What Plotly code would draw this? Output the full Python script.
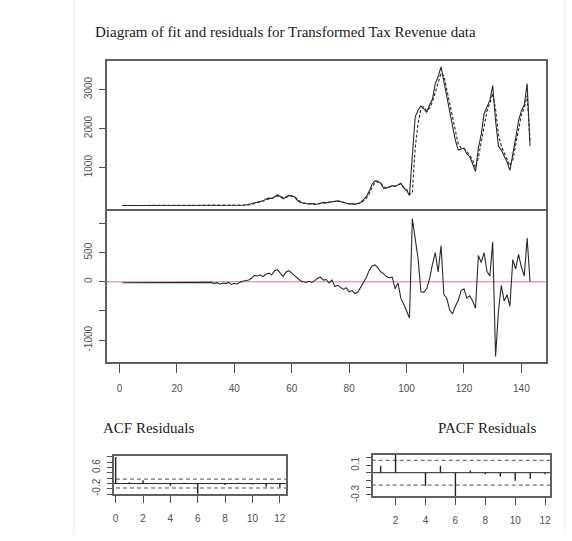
import plotly.graph_objects as go

W, H = 572, 541

t = list(range(1, 144))

actual = [30,30,30,30,30,30,30,30,30,30,
          30,30,30,30,30,30,30,30,30,30,
          30,30,30,30,30,30,30,30,30,30,
          30,28,32,30,25,35,30,28,33,30,
          35,40,38,45,
          60,80,90,110,130,150,200,220,210,260,
          300,260,200,250,290,280,250,160,110,90,
          80,70,80,60,70,90,110,100,120,130,
          140,150,130,110,90,70,80,60,80,110,
          180,260,400,580,660,650,600,470,480,520,
          540,520,560,600,480,420,290,
          1370,2300,2470,2580,2500,2420,2600,2750,3150,3330,
          3580,3200,2850,2450,2130,1700,1450,1470,1500,1350,
          1280,1100,900,1500,1850,2380,2550,2720,3100,2200,
          1550,1450,1300,1150,930,1400,1750,2200,2450,2600,
          3150,1550]

fitted = [30,30,30,30,30,30,30,30,30,30,
          30,30,30,30,30,30,30,30,30,30,
          30,30,30,30,30,30,30,30,30,30,
          30,30,30,30,30,30,30,30,30,30,
          30,35,38,40,
          45,60,80,95,115,135,170,200,215,240,
          275,270,225,235,270,275,255,190,130,100,
          85,75,78,65,68,85,100,100,112,125,
          135,145,135,115,95,78,78,65,75,100,
          150,220,340,500,610,640,610,510,480,505,
          530,525,550,585,500,435,320,
          350,1500,2150,2500,2560,2450,2520,2680,2950,3200,
          3420,3350,3000,2650,2300,1900,1600,1500,1480,1420,
          1320,1200,1000,1250,1650,2100,2450,2650,2900,2500,
          1850,1550,1380,1230,1050,1200,1600,2000,2350,2520,
          2850,1700]

residuals = [-15,-15,-15,-15,-15,-15,-15,-15,-15,-15,
             -15,-15,-15,-15,-15,-15,-15,-15,-15,-15,
             -15,-15,-15,-15,-15,-15,-15,-15,-15,-15,
             -20,-10,-30,-15,-40,-20,-30,-10,-45,-25,-40,-5,10,20,
             30,60,110,100,120,90,130,150,120,190,
             210,150,90,170,190,150,110,60,20,0,
             -10,10,-10,20,60,80,30,40,-20,30,
             -80,-60,-90,-130,-100,-170,-150,-200,-180,-90,
             -20,80,200,270,290,240,170,140,90,70,
             80,-120,-20,-280,-380,-500,-620,
             1080,700,400,-170,-180,-120,50,300,500,170,
             620,-220,-280,-480,-550,-420,-320,-150,-120,-280,
             -240,-330,-450,450,330,500,180,100,680,-1280,
             -500,-60,-330,-220,-420,380,220,470,250,100,
             750,0]

acf_lags = [0,1,2,3,4,5,6,7,8,9,10,11,12]
acf_vals = [1.0,0.05,0.12,0.02,-0.08,0.03,-0.38,0.02,-0.05,0.03,-0.04,-0.12,-0.14]

pacf_lags = [1,2,3,4,5,6,7,8,9,10,11,12]
pacf_vals = [0.09,0.24,0.0,-0.18,0.09,-0.32,0.03,-0.02,-0.05,-0.11,-0.08,-0.02]

conf = 0.167

x_ticks = [0,20,40,60,80,100,120,140]
acf_ticks = [0,2,4,6,8,10,12]

def px(v): return v / W
def py(v): return 1 - v / H

LINE = "#2a2a2a"
FRAME = "#606060"
TICKF = dict(family="Liberation Sans, Arial, sans-serif", size=10, color="#505050")
SERIF = "Liberation Serif, Times New Roman, serif"

fig = go.Figure()

# top panel: actual and fitted
fig.add_trace(go.Scatter(x=t, y=actual, mode="lines", line=dict(color=LINE, width=1.1),
                         xaxis="x", yaxis="y", showlegend=False))
fig.add_trace(go.Scatter(x=t, y=fitted, mode="lines", line=dict(color=LINE, width=1.1, dash="3px,2px"),
                         xaxis="x", yaxis="y", showlegend=False))

# residual panel
fig.add_trace(go.Scatter(x=[-10, 160], y=[0, 0], mode="lines",
                         line=dict(color="rgb(225,120,130)", width=1),
                         xaxis="x2", yaxis="y2", showlegend=False))
fig.add_trace(go.Scatter(x=t, y=residuals, mode="lines", line=dict(color=LINE, width=1.1),
                         xaxis="x2", yaxis="y2", showlegend=False))

def bars(lags, vals):
    xs, ys = [], []
    for l, v in zip(lags, vals):
        xs += [l, l, None]
        ys += [0, v, None]
    return xs, ys

# ACF
ax, ay = bars(acf_lags, acf_vals)
for c in (conf, -conf):
    fig.add_trace(go.Scatter(x=[-1, 14], y=[c, c], mode="lines",
                             line=dict(color="#4a4f66", width=1, dash="4px,3px"),
                             xaxis="x3", yaxis="y3", showlegend=False))
fig.add_trace(go.Scatter(x=[-1, 14], y=[0, 0], mode="lines", line=dict(color="#222", width=1),
                         xaxis="x3", yaxis="y3", showlegend=False))
fig.add_trace(go.Scatter(x=ax, y=ay, mode="lines", line=dict(color="#222", width=1.4),
                         xaxis="x3", yaxis="y3", showlegend=False))

# PACF
bx, by = bars(pacf_lags, pacf_vals)
for c in (conf, -conf):
    fig.add_trace(go.Scatter(x=[-1, 14], y=[c, c], mode="lines",
                             line=dict(color="#4a4f66", width=1, dash="4px,3px"),
                             xaxis="x4", yaxis="y4", showlegend=False))
fig.add_trace(go.Scatter(x=[-1, 14], y=[0, 0], mode="lines", line=dict(color="#222", width=1),
                         xaxis="x4", yaxis="y4", showlegend=False))
fig.add_trace(go.Scatter(x=bx, y=by, mode="lines", line=dict(color="#222", width=1.4),
                         xaxis="x4", yaxis="y4", showlegend=False))

frame = dict(showline=True, linecolor=FRAME, linewidth=1.5, mirror=True,
             showgrid=False, zeroline=False, tickfont=TICKF, tickcolor="#505050")
frame_top = dict(showline=True, linecolor=FRAME, linewidth=1.5, mirror=False, side="top",
                 showgrid=False, zeroline=False, tickfont=TICKF)

fig.update_layout(
    width=W, height=H, margin=dict(l=0, r=0, t=0, b=0),
    paper_bgcolor="white", plot_bgcolor="white",
    xaxis=dict(domain=[px(106), px(547)], range=[-4.5, 148.6], anchor="y",
               showticklabels=False, ticks="", **frame_top),
    yaxis=dict(domain=[py(213), py(62)], range=[-100, 3720], anchor="x",
               tickvals=[1000, 2000, 3000], ticks="outside", ticklen=6,
               ticklabelstandoff=3, tickangle=-90, **frame),
    xaxis2=dict(domain=[px(106), px(547)], range=[-4.5, 148.6], anchor="y2",
                tickvals=x_ticks, ticks="outside", ticklen=9, ticklabelstandoff=7, **frame),
    yaxis2=dict(domain=[py(366), py(213)], range=[-1373, 1220], anchor="x2",
                tickvals=[-1000, -500, 0, 500, 1000], ticktext=["-1000", "", "0", "500", ""],
                ticks="outside", ticklen=6, ticklabelstandoff=3, tickangle=-90, **frame),
    xaxis3=dict(domain=[px(113), px(286)], range=[-0.15, 12.45], anchor="y3",
                tickvals=acf_ticks, ticks="outside", ticklen=7, ticklabelstandoff=7, **frame),
    yaxis3=dict(domain=[py(500), py(461)], range=[-0.41, 1.04], anchor="x3",
                tickvals=[-0.4, -0.2, 0, 0.2, 0.4, 0.6, 0.8, 1.0],
                ticktext=["", "-0.2", "", "", "", "0.6", "", ""],
                ticks="outside", ticklen=5, ticklabelstandoff=3, tickangle=-90, **frame),
    xaxis4=dict(domain=[px(373), px(551)], range=[0.47, 12.33], anchor="y4",
                tickvals=acf_ticks, ticks="outside", ticklen=7, ticklabelstandoff=7, **frame),
    yaxis4=dict(domain=[py(502), py(460)], range=[-0.32, 0.24], anchor="x4",
                tickvals=[-0.3, -0.2, -0.1, 0, 0.1, 0.2],
                ticktext=["-0.3", "", "", "", "0.1", ""],
                ticks="outside", ticklen=5, ticklabelstandoff=3, tickangle=-90, **frame),
    annotations=[
        dict(text="Diagram of fit and residuals for Transformed Tax Revenue data",
             x=px(92), y=py(32), xref="paper", yref="paper", xanchor="left", yanchor="middle",
             showarrow=False, font=dict(family=SERIF, size=15, color="#222")),
        dict(text="ACF Residuals", x=px(100), y=py(433), xref="paper", yref="paper",
             xanchor="left", yanchor="middle", showarrow=False,
             font=dict(family=SERIF, size=15, color="#222")),
        dict(text="PACF Residuals", x=px(437), y=py(433), xref="paper", yref="paper",
             xanchor="left", yanchor="middle", showarrow=False,
             font=dict(family=SERIF, size=15, color="#222")),
    ],
    shapes=[
        dict(type="line", xref="paper", yref="paper", x0=px(73), x1=px(73), y0=0, y1=1,
             line=dict(color="#ececec", width=1)),
        dict(type="line", xref="paper", yref="paper", x0=px(566), x1=px(566), y0=0, y1=1,
             line=dict(color="#ececec", width=1)),
    ],
)

fig.write_html("out.html")
